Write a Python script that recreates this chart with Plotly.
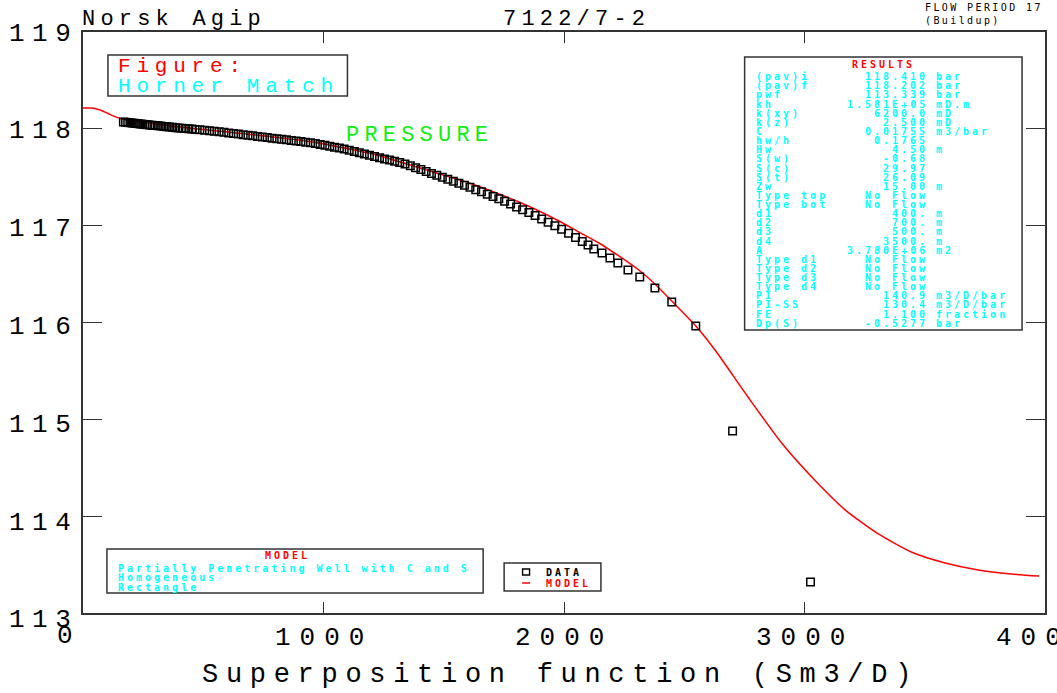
import plotly.graph_objects as go

# ---------------- data ----------------
data_x = [168, 177, 186, 195, 204, 213, 222, 231, 240, 249, 258, 267, 277, 288, 300, 312, 324, 336,
          348, 360, 373, 386, 399, 412, 426, 440, 452,
          466, 486, 506, 526, 546, 566, 586, 606, 626, 646, 666, 686, 706, 726, 746, 766, 786, 806,
          826, 846, 866, 886, 906, 926, 946, 966, 986, 1006, 1026, 1046, 1066, 1086, 1107, 1128,
          1149, 1170, 1191, 1212, 1233, 1254, 1275, 1296, 1317, 1339, 1361, 1383, 1405, 1427, 1449,
          1471, 1494, 1517, 1540, 1563, 1586, 1609, 1633, 1657, 1681, 1705, 1729, 1753, 1778, 1803,
          1828, 1854, 1880, 1907, 1934, 1962, 1990, 2019, 2048, 2076, 2100, 2124, 2158, 2191, 2224,
          2266, 2315, 2378, 2448, 2548, 2701, 3025]
data_y = [118.071, 118.068, 118.066, 118.063, 118.061, 118.058, 118.056, 118.053, 118.051, 118.048,
          118.046, 118.043, 118.040, 118.037, 118.034, 118.031, 118.028, 118.025, 118.022, 118.019,
          118.016, 118.012, 118.009, 118.007, 118.004, 118.001, 117.998,
          117.994, 117.990, 117.985, 117.981, 117.976, 117.970, 117.964, 117.958, 117.952, 117.946,
          117.940, 117.934, 117.928, 117.922, 117.916, 117.910, 117.904, 117.898, 117.892, 117.886,
          117.880, 117.874, 117.868, 117.862, 117.856, 117.848, 117.839, 117.830, 117.820, 117.811,
          117.802, 117.792, 117.779, 117.766, 117.753, 117.740, 117.727, 117.714, 117.701, 117.689,
          117.677, 117.665, 117.653, 117.637, 117.618, 117.598, 117.579, 117.560, 117.540, 117.521,
          117.500, 117.479, 117.458, 117.437, 117.417, 117.396, 117.372, 117.349, 117.325, 117.302,
          117.279, 117.253, 117.224, 117.194, 117.165, 117.135, 117.104, 117.070, 117.035, 116.999,
          116.963, 116.921, 116.879, 116.837, 116.800, 116.759, 116.718, 116.666, 116.614, 116.542,
          116.470, 116.356, 116.212, 115.964, 114.879, 113.320]

model_x = [0, 37, 71, 100, 133, 162, 402, 680, 954, 1220, 1469, 1606, 1730, 1813, 1896, 1979, 2062,
           2145, 2228, 2311, 2378, 2448, 2548, 2631, 2768, 2905, 3046, 3170, 3307, 3444, 3585, 3722,
           3859, 3975]
model_y = [118.215, 118.214, 118.194, 118.163, 118.127, 118.102, 118.019, 117.947, 117.864, 117.730,
           117.544, 117.441, 117.327, 117.244, 117.151, 117.048, 116.934, 116.821, 116.687, 116.542,
           116.398, 116.222, 115.964, 115.706, 115.220, 114.755, 114.363, 114.063, 113.816, 113.630,
           113.516, 113.444, 113.403, 113.382]

x_tick_vals = [0, 1000, 2000, 3000, 4000]
x_tick_text = ["0", "1000", "2000", "3000", "4000"]
y_tick_vals = [119, 118, 117, 116, 115, 114, 113]
y_tick_text = ["119", "118", "117", "116", "115", "114", "113"]

result_names = ["(pav)i", "(pav)f", "pwf", "kh", "k(xy)", "k(z)", "C", "hw/h", "Hw", "S(w)", "S(c)",
                "S(t)", "Zw", "Type top", "Type bot", "d1", "d2", "d3", "d4", "A", "Type d1",
                "Type d2", "Type d3", "Type d4", "PI", "PI-SS", "FE", "Dp(S)"]
result_values = ["118.410", "118.202", "113.339", "1.581E+05", "6200.0", "2.500", "0.01755", "0.1765",
                 "4.50", "-0.68", "29.97", "26.09", "15.00", "No Flow", "No Flow", "400.", "700.",
                 "500.", "3500.", "3.780E+06", "No Flow", "No Flow", "No Flow", "No Flow", "140.9",
                 "130.4", "1.100", "-0.5277"]
result_units = ["bar", "bar", "bar", "mD.m", "mD", "mD", "m3/bar", "", "m", "", "", "", "m", "", "",
                "m", "m", "m", "m", "m2", "", "", "", "", "m3/D/bar", "m3/D/bar", "fraction", "bar"]

model_lines = ["Partially Penetrating Well with C and S", "Homogeneous", "Rectangle"]

# ---------------- layout helpers ----------------
W, H = 1057, 693
L, R, T, B = 83, 1047, 32, 613

RED = "#ff0000"
CYAN = "#00ffff"
GREEN = "#11ee11"
FRAME = "#333333"
THIN = "Liberation Mono"
MONO = "DejaVu Sans Mono"


def px(x):
    return (x - L) / (R - L)


def py(y):
    return (B - y) / (B - T)


def spaced(text, s):
    return '<span style="letter-spacing:%spx">%s</span>' % (s, text)


annotations = []


def note(text, x, y, size, color, family=THIN, spacing=0, xanchor="left", weight="normal"):
    annotations.append(dict(
        text=spaced(text, spacing) if spacing else text,
        x=px(x), y=py(y), xref="paper", yref="paper",
        xanchor=xanchor, yanchor="middle", showarrow=False, borderpad=0,
        font=dict(family=family, size=size, color=color, weight=weight)))


# header
note("Norsk Agip", 81, 19, 22, "black", spacing=5.2)
note("7122/7-2", 503, 19, 22, "black", spacing=5.2)
note("FLOW PERIOD 17", 926, 8, 10, "black", family=MONO, spacing=2.4)
note("(Buildup)", 926, 20, 10, "black", family=MONO, spacing=2.4)

# figure box text
note("Figure:", 117, 67, 21, RED, spacing=5.8)
note("Horner Match", 117, 86, 21, CYAN, spacing=5.8)
note("PRESSURE", 346, 135, 22, GREEN, spacing=5.2)

# axis tick labels
for v, t in zip(x_tick_vals, x_tick_text):
    annotations.append(dict(
        text=spaced(t, 9), x=v, y=py(638 if v else 636), xref="x", yref="paper",
        xanchor="center", yanchor="middle", showarrow=False, borderpad=0,
        xshift=-14 if v == 0 else 0,
        font=dict(family=THIN, size=26, color="black")))
for k, (v, t) in enumerate(zip(y_tick_vals, y_tick_text)):
    note(t, 8, 33.5 + k * 97.8, 26, "black", spacing=7.5)

note("Superposition function (Sm3/D)", 201, 675, 27, "black", spacing=7.7)

# results box
note("RESULTS", 885.5, 64, 10, RED, family=MONO, spacing=3, xanchor="center", weight="bold")
for i, (n, v, u) in enumerate(zip(result_names, result_values, result_units)):
    yy = 76.7 + i * 9.13
    note(n, 756, yy, 10, CYAN, family=MONO, spacing=3, weight="bold")
    note(v, 930.5, yy, 10, CYAN, family=MONO, spacing=3, xanchor="right", weight="bold")
    if u:
        note(u, 937, yy, 10, CYAN, family=MONO, spacing=3, weight="bold")

# model box
note("MODEL", 288, 555, 10, RED, family=MONO, spacing=3, xanchor="center", weight="bold")
for j, line in enumerate(model_lines):
    note(line, 117, 568 + j * 9.5, 10, CYAN, family=MONO, spacing=3, weight="bold")

# legend text
note("DATA", 546, 572, 10, "black", family=MONO, spacing=3, weight="bold")
note("MODEL", 546, 583, 10, RED, family=MONO, spacing=3, weight="bold")


def box(x0, y0, x1, y1, color=FRAME, width=1.5):
    return dict(type="rect", xref="paper", yref="paper", x0=px(x0), x1=px(x1), y0=py(y0), y1=py(y1),
                line=dict(color=color, width=width), fillcolor="rgba(0,0,0,0)", layer="above")


shapes = [
    box(108, 55, 348, 96),
    box(746, 57, 1024, 330),
    box(107, 549, 484, 593),
    box(505, 563, 602, 591),
    box(523.5, 569, 530.5, 575, color="black", width=1.4),
    dict(type="line", xref="paper", yref="paper", x0=px(523), x1=px(531), y0=py(583), y1=py(583),
         line=dict(color=RED, width=1.5)),
]

fig = go.Figure()
fig.add_trace(go.Scatter(x=model_x, y=model_y, mode="lines", name="MODEL",
                         line=dict(color=RED, width=1.5, shape="spline", smoothing=0.6)))
fig.add_trace(go.Scatter(x=data_x, y=data_y, mode="markers", name="DATA",
                         marker=dict(symbol="square-open", size=7.5, color="black",
                                     line=dict(width=1.5, color="black"))))

fig.update_layout(
    width=W, height=H, margin=dict(l=L, r=W - R, t=T, b=H - B),
    paper_bgcolor="white", plot_bgcolor="white", showlegend=False,
    annotations=annotations, shapes=shapes,
    xaxis=dict(range=[0, 4000], showgrid=False, zeroline=False, showline=True, linecolor=FRAME,
               linewidth=2, mirror="ticks", ticks="inside", ticklen=11, tickwidth=1.3,
               tickcolor=FRAME, tickvals=[1000, 2000, 3000], showticklabels=False),
    yaxis=dict(range=[113, 119], showgrid=False, zeroline=False, showline=True, linecolor=FRAME,
               linewidth=2, mirror="ticks", ticks="inside", ticklen=19, tickwidth=1.3,
               tickcolor=FRAME, tickvals=y_tick_vals, showticklabels=False),
)

fig.write_html("out.html", config={"displayModeBar": False},
               post_script="document.body.style.margin='0px';document.body.style.overflow='hidden';")
